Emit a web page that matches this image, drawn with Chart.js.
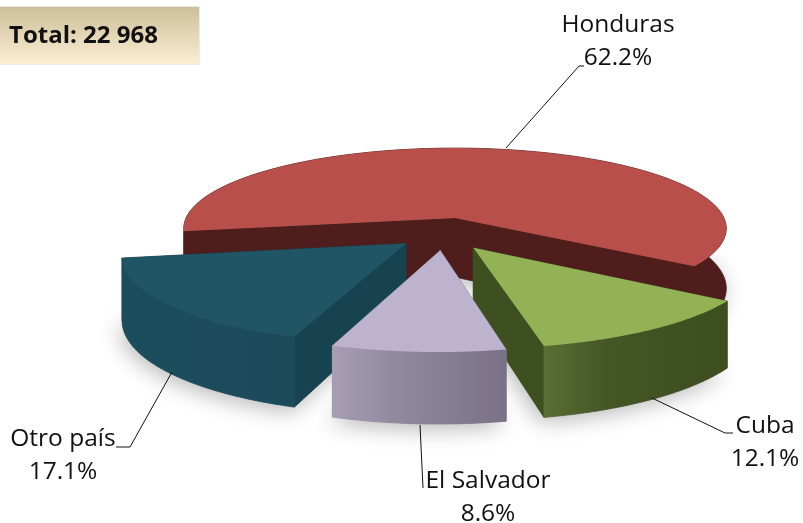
<!DOCTYPE html>
<html><head><meta charset="utf-8">
<style>html,body{margin:0;padding:0;background:#fff}canvas{display:block}</style>
<script src="https://cdn.jsdelivr.net/npm/chart.js@4"></script>
</head><body><canvas id="c" width="803" height="523"></canvas>
<script>
const categories = ["Honduras","Cuba","El Salvador","Otro país"];
const shares = [62.2,12.1,8.6,17.1];
const totalLabel = "Total: 22 968";
const topColors = ["#B94F4A","#93B256","#BEB3CF","#1F5565"];
const wallLeft = ["#4F1E1C","#5A6E35","#A79EB5","#1C4D5C"];
const wallMid = ["#4F1E1C","#445624","#918A9E","#1C4D5C"];
const wallRight = ["#4F1E1C","#3D4E1F","#7A7186","#1B4A59"];
const sideColors = ["#4F1E1C","#3F5020","#8A8196","#17424F"];
const explodeX = [0,0.065,-0.052,-0.175];
const explodeY = [0,0.36,0.39,0.31];
const drawOrder = [0,3,1,2];
const labelX = [618,765,488,63];
const labelY = [25,426,481,439];
const leaders = [
  [[506,148],[579,66],[584,66]],
  [[652,398],[725,433],[733,433]],
  [[420,425],[423,488]],
  [[172,372],[130,447],[116,447]]
];
const P = 0.13, SX = 1.345, SY = 0.395, DEPTH = 0.295;

const pie3d = {
  id:'pie3d',
  beforeDatasetDraw(chart,args){
    const ctx = chart.ctx, arcs = chart.getDatasetMeta(0).data;
    const R = arcs[0].outerRadius, cx = arcs[0].x, cy = arcs[0].y;
    const proj = (X,Y,low)=>{const w=1-P*Y;return [cx+R*SX*X/w, cy+R*SY*Y/w+(low?R*DEPTH/w:0)];};
    const arcPts = (i,low)=>{
      const a=arcs[i], out=[];
      for(let k=0;k<=80;k++){
        const t=a.startAngle+(a.endAngle-a.startAngle)*k/80;
        out.push(proj(Math.cos(t)+explodeX[i],Math.sin(t)+explodeY[i],low));
      }
      return out;
    };
    const apex=(i,low)=>proj(explodeX[i],explodeY[i],low);
    const poly=(pts,fill,seam)=>{
      ctx.beginPath();pts.forEach((p,n)=>n?ctx.lineTo(p[0],p[1]):ctx.moveTo(p[0],p[1]));ctx.closePath();
      ctx.fillStyle=fill;ctx.fill();
      if(seam){ctx.strokeStyle=fill;ctx.lineWidth=0.8;ctx.stroke();}
    };
    // soft shadow below every slice
    ctx.save();
    ctx.shadowColor='rgba(0,0,0,0.28)';ctx.shadowBlur=22;ctx.shadowOffsetX=-3;ctx.shadowOffsetY=5;
    drawOrder.forEach(i=>poly([apex(i,true),...arcPts(i,true)],'#888'));
    ctx.restore();
    drawOrder.forEach(i=>{
      const top=arcPts(i,false), low=arcPts(i,true);
      const ap=apex(i,false), al=apex(i,true);
      // outer wall
      const xs=top.map(p=>p[0]);
      const g=ctx.createLinearGradient(Math.min(...xs),0,Math.max(...xs),0);
      g.addColorStop(0,wallLeft[i]);g.addColorStop(0.35,wallMid[i]);g.addColorStop(1,wallRight[i]);
      // radial walls
      poly([ap,top[0],low[0],al],sideColors[i],true);
      poly([ap,top[top.length-1],low[low.length-1],al],sideColors[i],true);
      poly([...top,...low.slice().reverse()],g,true);
      // top face
      poly([ap,...top],topColors[i]);
    });
    // labels and leader lines
    ctx.save();
    ctx.strokeStyle='#111';ctx.lineWidth=1;
    leaders.forEach(l=>{ctx.beginPath();l.forEach((p,n)=>n?ctx.lineTo(p[0],p[1]):ctx.moveTo(p[0],p[1]));ctx.stroke();});
    ctx.fillStyle='#111';ctx.font='24.5px "Open Sans"';ctx.textAlign='center';ctx.textBaseline='middle';
    categories.forEach((c,i)=>{
      ctx.fillText(c,labelX[i],labelY[i]);
      ctx.fillText(shares[i].toFixed(1)+'%',labelX[i],labelY[i]+33);
    });
    // total box
    const b=ctx.createLinearGradient(0,7,0,64);
    b.addColorStop(0,'#CDBF99');b.addColorStop(1,'#FBEED4');
    ctx.fillStyle='#EDEAE4';ctx.fillRect(0,6,200,59);
    ctx.fillStyle=b;ctx.fillRect(0,7,199,57);
    ctx.fillStyle='#111';ctx.font='bold 24px "Open Sans"';ctx.textAlign='left';
    ctx.fillText(totalLabel,9,36);
    ctx.restore();
    return false;
  }
};
new Chart(document.getElementById('c'),{
  type:'pie',
  data:{labels:categories,datasets:[{data:shares,backgroundColor:topColors,borderWidth:0}]},
  options:{
    responsive:false,animation:false,rotation:260.5,
    layout:{padding:{left:255,right:148,top:18,bottom:105}},
    plugins:{legend:{display:false},tooltip:{enabled:false}}
  },
  plugins:[pie3d]
});
</script></body></html>
